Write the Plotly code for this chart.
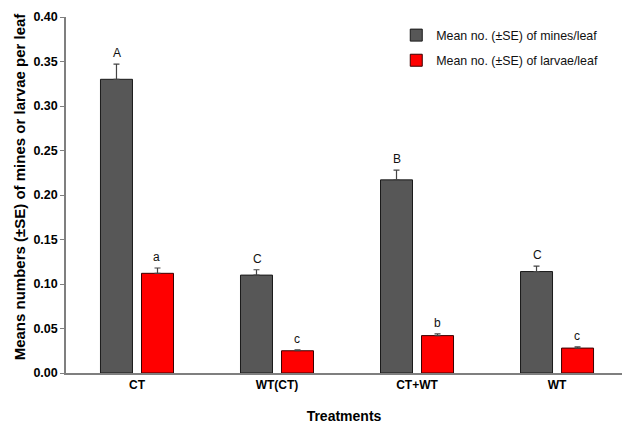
import plotly.graph_objects as go

# Treatments and per-leaf means with standard errors
treatments = ["CT", "WT(CT)", "CT+WT", "WT"]
mines_mean = [0.330, 0.110, 0.217, 0.114]
mines_se = [0.017, 0.006, 0.011, 0.006]
larvae_mean = [0.112, 0.025, 0.042, 0.028]
larvae_se = [0.006, 0.001, 0.002, 0.0015]
mines_letters = ["A", "C", "B", "C"]
larvae_letters = ["a", "c", "b", "c"]

FONT = "Liberation Sans, Arial, sans-serif"

fig = go.Figure()
fig.add_trace(go.Bar(
    name="Mean no. (±SE) of mines/leaf", legendgroup="mines",
    x=treatments, y=mines_mean,
    marker=dict(color="#575757", line=dict(color="#1a1a1a", width=1)),
    error_y=dict(type="data", symmetric=False, array=mines_se,
                 arrayminus=[0] * len(mines_se),
                 color="#444444", thickness=1.2, width=3),
))
fig.add_trace(go.Bar(
    name="Mean no. (±SE) of larvae/leaf", legendgroup="larvae",
    x=treatments, y=larvae_mean,
    marker=dict(color="#ff0000", line=dict(color="#3a0000", width=1)),
    error_y=dict(type="data", symmetric=False, array=larvae_se,
                 arrayminus=[0] * len(larvae_se),
                 color="#444444", thickness=1.2, width=3),
))

# Significance letters above each error bar
annotations = []
for i, t in enumerate(treatments):
    for mean, se, lab, shift in [
        (mines_mean[i], mines_se[i], mines_letters[i], -20),
        (larvae_mean[i], larvae_se[i], larvae_letters[i], 20),
    ]:
        annotations.append(dict(
            x=t, y=mean + se, text=lab, showarrow=False,
            xshift=shift, yshift=2, yanchor="bottom",
            font=dict(family=FONT, size=12, color="#111111"),
        ))

# Y-axis title drawn as a rotated annotation
annotations.append(dict(
    xref="paper", yref="paper", x=-0.083, y=0.524,
    text="<b>Means numbers (±SE) of mines or larvae per leaf</b>",
    textangle=-90, showarrow=False, xanchor="center", yanchor="middle",
    font=dict(family=FONT, size=15, color="black"),
))

fig.update_layout(
    width=624, height=424,
    margin=dict(l=66, r=2, t=17, b=51),
    paper_bgcolor="white", plot_bgcolor="white",
    barmode="group", bargap=0.414, bargroupgap=0.22,
    font=dict(family=FONT, color="black"),
    showlegend=True,
    legend=dict(x=0.594, y=0.99, xanchor="left", yanchor="top",
                bgcolor="rgba(0,0,0,0)",
                font=dict(family=FONT, size=12.4, color="#111111"),
                tracegroupgap=6),
    annotations=annotations,
)
fig.update_xaxes(
    range=[-0.507, 3.464], showline=True, linecolor="#7f7f7f", linewidth=1.5,
    ticks="", showgrid=False, zeroline=False,
    tickfont=dict(family=FONT, size=12, color="black", weight="bold"),
    title=dict(text="<b>Treatments</b>", font=dict(family=FONT, size=14, color="black"),
               standoff=20),
)
fig.update_yaxes(
    range=[0, 0.40], dtick=0.05, tickformat=".2f",
    showline=True, linecolor="#7f7f7f", linewidth=1.5,
    ticks="outside", ticklen=4, tickcolor="#7f7f7f", tickwidth=1.2,
    showgrid=False, zeroline=False,
    tickfont=dict(family=FONT, size=12.5, color="black", weight="bold"),
)

fig.write_html("out.html")
